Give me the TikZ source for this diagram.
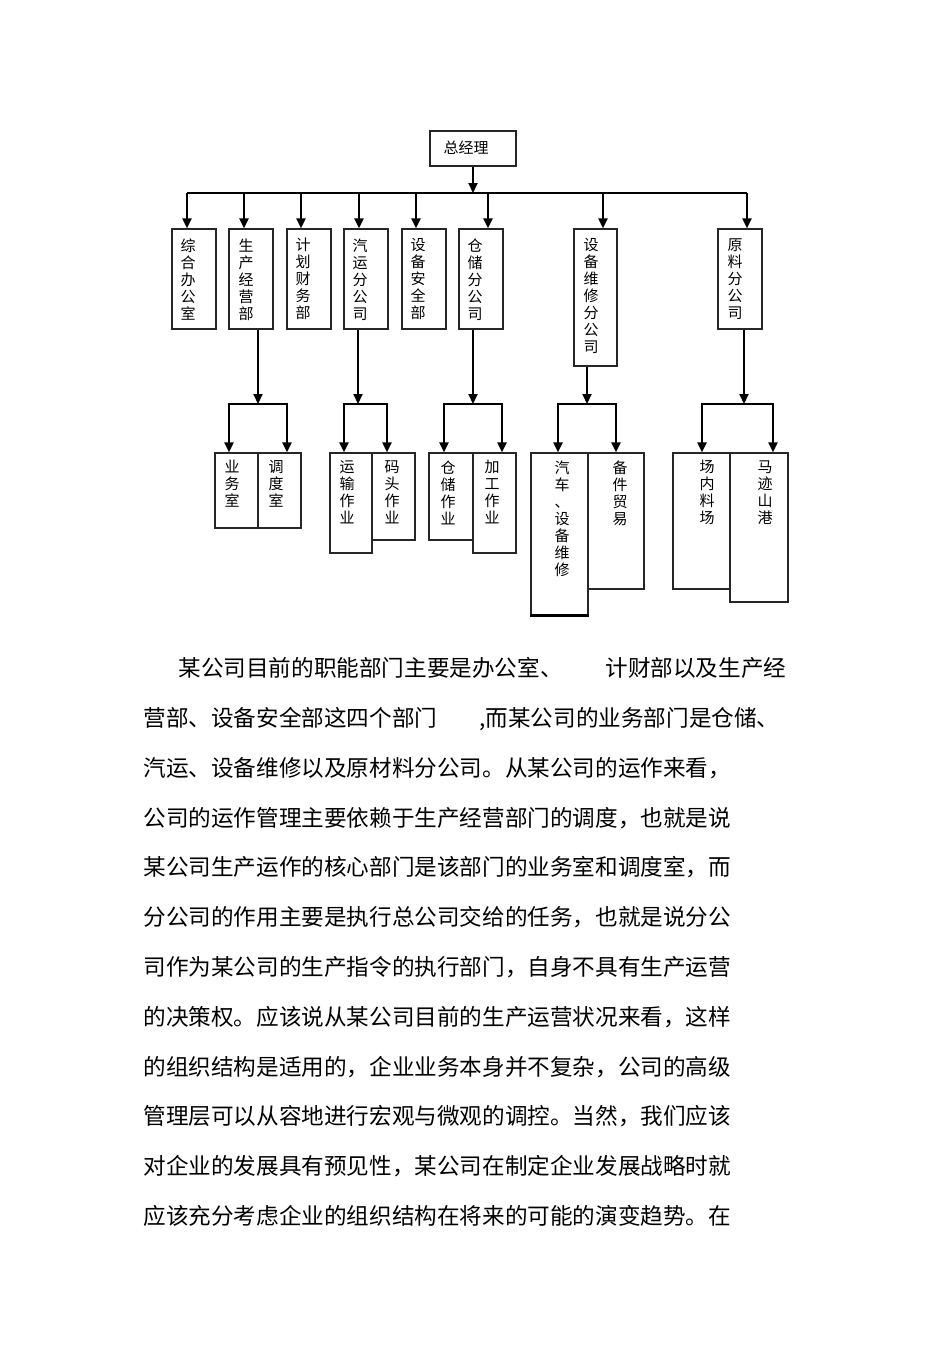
\documentclass[tikz,border=0pt]{standalone}
\usepackage{fontspec}
\usetikzlibrary{arrows.meta}
\newfontfamily\cjk{Noto Sans CJK SC}
\newcommand\mkbox[5]{\node[box, minimum width={(#4-#2)*0.5pt}, minimum height={(#5-#3)*0.5pt}] (#1) at ({(#2+#4)/2},{(#3+#5)/2}) {};}
\newcommand\subtree[6]{%
  \coordinate (#1-s) at (#2,404);
  \coordinate (#1-l) at (#4,404);
  \coordinate (#1-r) at (#6,404);
  \draw[arr] (#1.south -| #1-s) -- (#1-s);
  \draw[conn, {Triangle[length=5pt,width=4.5pt]}-{Triangle[length=5pt,width=4.5pt]}] (#3.north -| #1-l) -- (#1-l) -- (#1-r) -- (#5.north -| #1-r);}
\begin{document}
\begin{tikzpicture}[x=0.5pt,y=-0.5pt,
  box/.style={draw=black!85, line width=0.6pt, inner sep=0pt},
  conn/.style={line width=1pt, draw=black},
  arr/.style={conn, -{Triangle[length=5pt,width=4.5pt]}},
  vtxt/.style={font=\cjk\fontsize{7.5}{8.5}\selectfont, align=center, anchor=north, inner sep=0pt},
  para/.style={font=\cjk\fontsize{11.3}{13}\selectfont, anchor=base west, inner sep=0pt}]
\fill[white] (0,0) rectangle (950,1345);
\useasboundingbox (0,0) rectangle (950,1345);

% top
\mkbox{gm}{430}{131}{516}{166}
\node[font=\cjk\fontsize{7.5}{8.5}\selectfont, inner sep=0pt] (gmt) at (466,148) {总经理};

% level 2 boxes
\mkbox{b1}{172}{229}{216}{329}
\mkbox{b2}{229}{229}{273}{329}
\mkbox{b3}{287}{229}{331}{329}
\mkbox{b4}{344}{229}{388}{329}
\mkbox{b5}{402}{229}{446}{329}
\mkbox{b6}{459}{229}{503}{329}
\mkbox{b7}{574}{229}{617}{366}
\mkbox{b8}{718}{229}{762}{329}

\node[vtxt] (t1) at (188,238) {综\\合\\办\\公\\室};
\node[vtxt] (t2) at (246,238) {生\\产\\经\\营\\部};
\node[vtxt] (t3) at (303,238) {计\\划\\财\\务\\部};
\node[vtxt] (t4) at (360,238) {汽\\运\\分\\公\\司};
\node[vtxt] (t5) at (418,238) {设\\备\\安\\全\\部};
\node[vtxt] (t6) at (475,238) {仓\\储\\分\\公\\司};
\node[vtxt] (t7) at (591,238) {设\\备\\维\\修\\分\\公\\司};
\node[vtxt] (t8) at (735,238) {原\\料\\分\\公\\司};

% top connectors
\coordinate (bus) at (473,193);
\coordinate (busL) at (187,193);
\coordinate (busR) at (747,193);
\draw[arr] (gm.south) -- (bus);
\draw[conn] (busL) -- (busR);
\foreach \n/\x in {1/187,2/244,3/301,4/359,5/416,6/488,7/603,8/747}{
  \coordinate (d\n) at (\x,193);
  \draw[arr] (d\n) -- (d\n |- b\n.north);
}

% level 3 boxes
\mkbox{c1}{215}{453}{258}{528}
\mkbox{c2}{258}{453}{301}{528}
\mkbox{c3}{330}{453}{372}{553}
\mkbox{c4}{372}{453}{415}{540}
\mkbox{c5}{429}{453}{473}{540}
\mkbox{c6}{473}{453}{516}{553}
\mkbox{c7}{531}{453}{588}{615}
\mkbox{c8}{588}{453}{644}{589}
\mkbox{c9}{673}{453}{730}{589}
\mkbox{c10}{730}{453}{788}{602}
\draw[line width=1.4pt] (c7.south west) -- (c7.south east);

\node[vtxt] (s1) at (232,460) {业\\务\\室};
\node[vtxt] (s2) at (276,460) {调\\度\\室};
\node[vtxt] (s3) at (347,460) {运\\输\\作\\业};
\node[vtxt] (s4) at (392,460) {码\\头\\作\\业};
\node[vtxt] (s5) at (448,460) {仓\\储\\作\\业};
\node[vtxt] (s6) at (492,460) {加\\工\\作\\业};
\node[vtxt] (s7) at (562,460) {汽\\车\\、\\设\\备\\维\\修};
\node[vtxt] (s8) at (620,460) {备\\件\\贸\\易};
\node[vtxt] (s9) at (707,460) {场\\内\\料\\场};
\node[vtxt] (s10) at (765,460) {马\\迹\\山\\港};

% lower connectors
\subtree{b2}{258}{c1}{229}{c2}{287}
\subtree{b4}{358}{c3}{344}{c4}{387}
\subtree{b6}{473}{c5}{444}{c6}{502}
\subtree{b7}{587}{c7}{558}{c8}{616}
\subtree{b8}{744}{c9}{702}{c10}{773}

% paragraph
\node[para] (p1a) at (178,676.6) {某公司目前的职能部门主要是办公室、};
\node[para] (p1b) at (605,676.6) {计财部以及生产经};
\node[para] (p2a) at (143,726.4) {营部、设备安全部这四个部门};
\node[para] (p2b) at (479,726.4) {,而某公司的业务部门是仓储、};
\node[para] (p3) at (143,776.2) {汽运、设备维修以及原材料分公司。从某公司的运作来看，};
\node[para] (p4) at (143,826.0) {公司的运作管理主要依赖于生产经营部门的调度，也就是说};
\node[para] (p5) at (143,875.8) {某公司生产运作的核心部门是该部门的业务室和调度室，而};
\node[para] (p6) at (143,925.6) {分公司的作用主要是执行总公司交给的任务，也就是说分公};
\node[para] (p7) at (143,975.4) {司作为某公司的生产指令的执行部门，自身不具有生产运营};
\node[para] (p8) at (143,1025.2) {的决策权。应该说从某公司目前的生产运营状况来看，这样};
\node[para] (p9) at (143,1075.0) {的组织结构是适用的，企业业务本身并不复杂，公司的高级};
\node[para] (p10) at (143,1124.8) {管理层可以从容地进行宏观与微观的调控。当然，我们应该};
\node[para] (p11) at (143,1174.6) {对企业的发展具有预见性，某公司在制定企业发展战略时就};
\node[para] (p12) at (143,1224.4) {应该充分考虑企业的组织结构在将来的可能的演变趋势。在};
\end{tikzpicture}
\end{document}
